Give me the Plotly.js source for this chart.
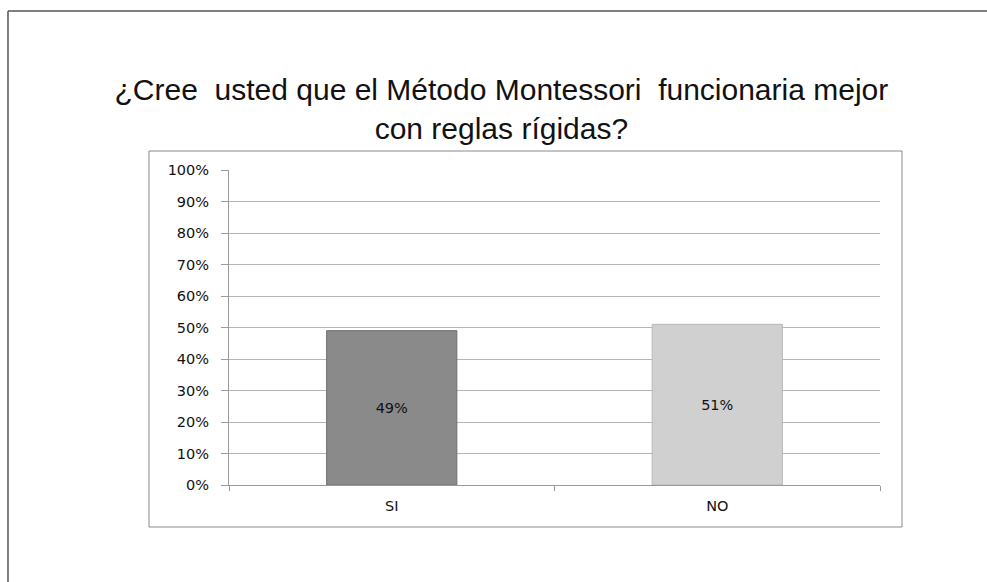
<!DOCTYPE html>
<html>
<head>
<meta charset="utf-8">
<script src="https://cdn.plot.ly/plotly-3.0.1.min.js"></script>
<style>html,body{margin:0;padding:0;background:#fff;}#chart{width:987px;height:582px;}</style>
</head>
<body>
<div id="chart"></div>
<script>
var categories = ['SI', 'NO'];
var values = [0.49, 0.51];
var valueLabels = ['49%', '51%'];
var barColors = ['#8a8a8a', '#d0d0d0'];
var barEdges = ['#6e6e6e', '#b8b8b8'];
var titleText = '¿Cree\u00a0 usted que el Método Montessori\u00a0 funcionaria mejor<br>con reglas rígidas?';

var labelFont = {family: '"DejaVu Sans", Verdana, sans-serif', size: 14.5, color: '#111'};

var trace = {
  type: 'bar',
  x: categories,
  y: values,
  text: valueLabels,
  textposition: 'inside',
  insidetextanchor: 'middle',
  textangle: 0,
  textfont: {family: '"DejaVu Sans", Verdana, sans-serif', size: 14.5, color: '#111'},
  marker: {color: barColors, line: {color: barEdges, width: 1}},
  hoverinfo: 'none',
  cliponaxis: false
};

var layout = {
  width: 987, height: 582,
  margin: {l: 229, r: 107, t: 170, b: 97},
  paper_bgcolor: '#fff', plot_bgcolor: '#fff',
  showlegend: false,
  bargap: 0.6,
  title: {
    text: titleText,
    font: {family: '"Liberation Sans", Arial, sans-serif', size: 30, color: '#111'},
    x: 0.508, xref: 'container', xanchor: 'center',
    y: 1 - 100/582, yref: 'container', yanchor: 'middle'
  },
  xaxis: {
    type: 'category',
    showgrid: false,
    showline: true, linecolor: '#9a9a9a', linewidth: 1,
    ticks: 'outside', tickson: 'boundaries', ticklen: 5, tickcolor: '#9a9a9a',
    ticklabelstandoff: 8,
    tickfont: labelFont,
    zeroline: false, fixedrange: true
  },
  yaxis: {
    range: [0, 1],
    dtick: 0.1, tick0: 0,
    tickformat: '.0%',
    showgrid: true, gridcolor: '#b4b4b4', gridwidth: 1,
    showline: true, linecolor: '#9a9a9a', linewidth: 1,
    ticks: 'outside', ticklen: 7, tickcolor: '#9a9a9a',
    ticklabelstandoff: 9,
    tickfont: labelFont,
    zeroline: false, fixedrange: true
  },
  shapes: [
    {type: 'rect', xref: 'paper', yref: 'paper', x0: -0.1229, x1: 1.0338, y0: -0.1333, y1: 1.0603,
     line: {color: '#8a8a8a', width: 1}, fillcolor: 'rgba(0,0,0,0)', layer: 'below'},
    {type: 'line', xref: 'paper', yref: 'paper', x0: -0.3395, x1: 1.17, y0: 1.505, y1: 1.505,
     line: {color: '#555', width: 1.5}},
    {type: 'line', xref: 'paper', yref: 'paper', x0: -0.3395, x1: -0.3395, y0: 1.505, y1: -0.32,
     line: {color: '#555', width: 1.5}}
  ]
};

Plotly.newPlot('chart', [trace], layout, {displayModeBar: false, staticPlot: true});
</script>
</body>
</html>
